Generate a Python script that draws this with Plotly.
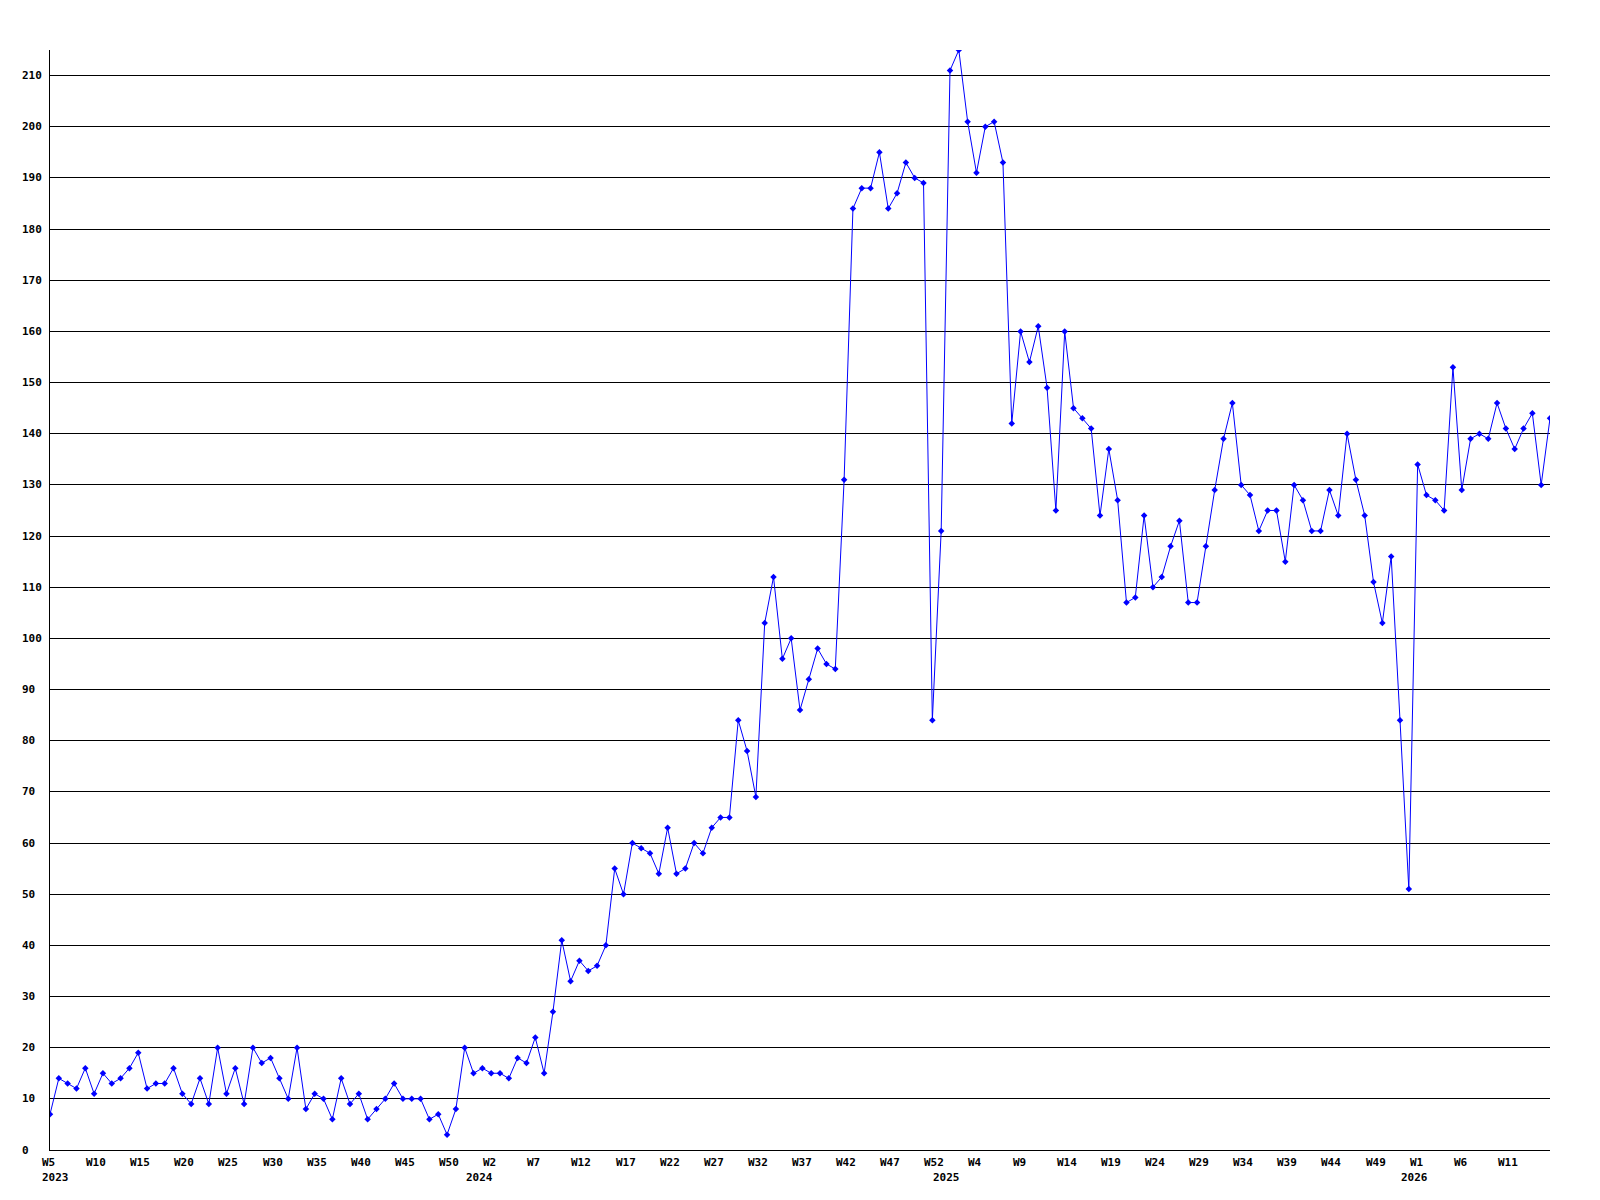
import plotly.graph_objects as go

# weekly values, 2023 W5 .. 2026 W16
values = [
    7, 14, 13, 12, 16, 11, 15, 13, 14, 16, 19, 12, 13, 13, 16, 11, 9, 14, 9, 20,
    11, 16, 9, 20, 17, 18, 14, 10, 20, 8, 11, 10, 6, 14, 9, 11, 6, 8, 10, 13,
    10, 10, 10, 6, 7, 3, 8, 20, 15, 16, 15, 15, 14, 18, 17, 22, 15, 27, 41, 33,
    37, 35, 36, 40, 55, 50, 60, 59, 58, 54, 63, 54, 55, 60, 58, 63, 65, 65, 84, 78,
    69, 103, 112, 96, 100, 86, 92, 98, 95, 94, 131, 184, 188, 188, 195, 184, 187, 193, 190, 189,
    84, 121, 211, 215, 201, 191, 200, 201, 193, 142, 160, 154, 161, 149, 125, 160, 145, 143, 141, 124,
    137, 127, 107, 108, 124, 110, 112, 118, 123, 107, 107, 118, 129, 139, 146, 130, 128, 121, 125, 125,
    115, 130, 127, 121, 121, 129, 124, 140, 131, 124, 111, 103, 116, 84, 51, 134, 128, 127, 125, 153,
    129, 139, 140, 139, 146, 141, 137, 141, 144, 130, 143,
]

# (year, first week, last week) covered by the series
week_spans = [(2023, 5, 52), (2024, 0, 52), (2025, 0, 52), (2026, 0, 16)]

tick_labels = [
    "W5", "W10", "W15", "W20", "W25", "W30", "W35", "W40", "W45", "W50",
    "W2", "W7", "W12", "W17", "W22", "W27", "W32", "W37", "W42", "W47", "W52",
    "W4", "W9", "W14", "W19", "W24", "W29", "W34", "W39", "W44", "W49",
    "W1", "W6", "W11",
]
y_ticks = list(range(0, 211, 10))

weeks = []
year_starts = []
for year, first, last in week_spans:
    year_starts.append((year, f"{year}-W{first:02d}"))
    for w in range(first, last + 1):
        weeks.append(f"{year}-W{w:02d}")

font_family = "DejaVu Sans Mono"
label_font = dict(family=font_family, size=11, color="black")

fig = go.Figure()
fig.add_trace(go.Scatter(
    x=weeks, y=values, mode="lines+markers",
    line=dict(color="#0000ff", width=1),
    marker=dict(symbol="diamond", size=5, color="#0000ff"),
    hoverinfo="x+y", showlegend=False,
))

annotations = []
for lab, wk in zip(tick_labels, weeks[::5]):
    annotations.append(dict(x=wk, xref="x", y=0, yref="paper", text=f"<b>{lab}</b>",
                            showarrow=False, xanchor="left", yanchor="middle",
                            xshift=-10, yshift=-12, font=label_font))
for year, wk in year_starts:
    annotations.append(dict(x=wk, xref="x", y=0, yref="paper", text=f"<b>{year}</b>",
                            showarrow=False, xanchor="left", yanchor="middle",
                            xshift=-10, yshift=-27, font=label_font))
for v in y_ticks:
    annotations.append(dict(x=0, xref="paper", y=v, yref="y", text=f"<b>{v}</b>",
                            showarrow=False, xanchor="left", yanchor="middle",
                            xshift=-30, font=label_font))

# the page body adds 8px on the top and left, so margins are offset by that
fig.update_layout(
    width=1600, height=1200,
    margin=dict(l=42, r=58, t=42, b=58),
    paper_bgcolor="white", plot_bgcolor="white",
    annotations=annotations,
    xaxis=dict(type="category", range=[0, len(weeks) - 1], showgrid=False,
               showticklabels=False, ticks="", showline=True, linecolor="black",
               linewidth=1, zeroline=False),
    yaxis=dict(range=[0, 215], tickvals=y_ticks, showticklabels=False, ticks="",
               showgrid=True, gridcolor="black", gridwidth=1, showline=True,
               linecolor="black", linewidth=1, zeroline=False),
)

fig.write_html("out.html")
